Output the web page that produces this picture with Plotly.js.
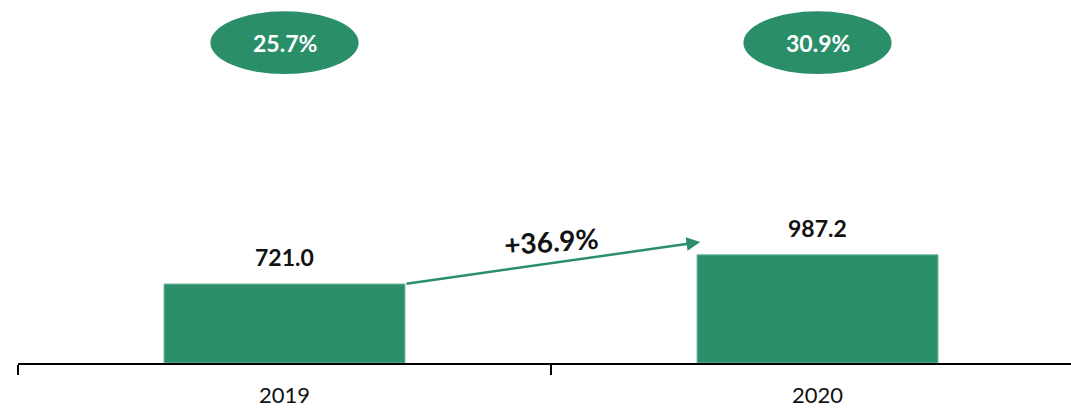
<!DOCTYPE html>
<html>
<head>
<meta charset="utf-8">
<script src="https://cdn.plot.ly/plotly-3.0.1.min.js"></script>
<style>html,body{margin:0;padding:0;background:#fff;}#chart{width:1071px;height:409px;}</style>
</head>
<body>
<div id="chart"></div>
<script>
const years = ['2019', '2020'];
const values = [721.0, 987.2];
const shares = ['25.7%', '30.9%'];

const green = '#2a8f69';
const font = 'Lato, "Open Sans", "DejaVu Sans", sans-serif';
const barWidth = 0.452;
const yMax = 3313;

const growth = (values[1] / values[0] - 1) * 100;
const growthLabel = '+' + growth.toFixed(1) + '%';

const trace = {
  type: 'bar',
  x: years,
  y: values,
  width: barWidth,
  marker: {color: green, line: {color: '#6fb896', width: 1}},
  hoverinfo: 'skip'
};

const annotations = [];
const shapes = [];
years.forEach((yr, i) => {
  annotations.push({
    x: i, y: values[i], xref: 'x', yref: 'y',
    text: '<b>' + values[i].toFixed(1) + '</b>',
    showarrow: false, yanchor: 'middle', yshift: 27,
    font: {family: font, size: 23, color: '#111'}
  });
  shapes.push({
    type: 'circle', xref: 'x', yref: 'paper',
    x0: i - 0.139, x1: i + 0.139, y0: 0.796, y1: 0.969,
    fillcolor: green, line: {width: 0}
  });
  annotations.push({
    x: i, y: 0.8825, xref: 'x', yref: 'paper',
    text: '<b>' + shares[i] + '</b>',
    showarrow: false, yanchor: 'middle',
    font: {family: font, size: 23, color: '#ffffff'}
  });
});

// growth arrow from top-right corner of first bar toward second bar
annotations.push({
  x: 0.78, y: values[0] + 383, xref: 'x', yref: 'y',
  ax: barWidth / 2, ay: values[0], axref: 'x', ayref: 'y',
  text: '', showarrow: true, arrowhead: 2, arrowsize: 1.1, arrowwidth: 2.5,
  arrowcolor: green, standoff: 0, startstandoff: 0
});
annotations.push({
  x: 0.5, y: 1113, xref: 'x', yref: 'y',
  text: '<b>' + growthLabel + '</b>', showarrow: false,
  textangle: -4, yanchor: 'middle',
  font: {family: font, size: 28, color: '#111'}
});

const layout = {
  width: 1071, height: 409,
  margin: {l: 18, r: 0, t: 0, b: 46, pad: 0},
  paper_bgcolor: '#ffffff', plot_bgcolor: '#ffffff',
  showlegend: false,
  xaxis: {
    type: 'category', range: [-0.5, 1.4756], fixedrange: true,
    showline: true, linecolor: '#000', linewidth: 2,
    ticks: 'outside', ticklen: 10, tickwidth: 2, tickcolor: '#000',
    tickson: 'boundaries', showgrid: false, zeroline: false,
    ticklabelstandoff: 12,
    tickfont: {family: font, size: 22, color: '#111'}
  },
  yaxis: {visible: false, range: [0, yMax], showgrid: false, zeroline: false, fixedrange: true},
  shapes: shapes,
  annotations: annotations
};

Plotly.newPlot('chart', [trace], layout, {displayModeBar: false, staticPlot: true});
</script>
</body>
</html>
